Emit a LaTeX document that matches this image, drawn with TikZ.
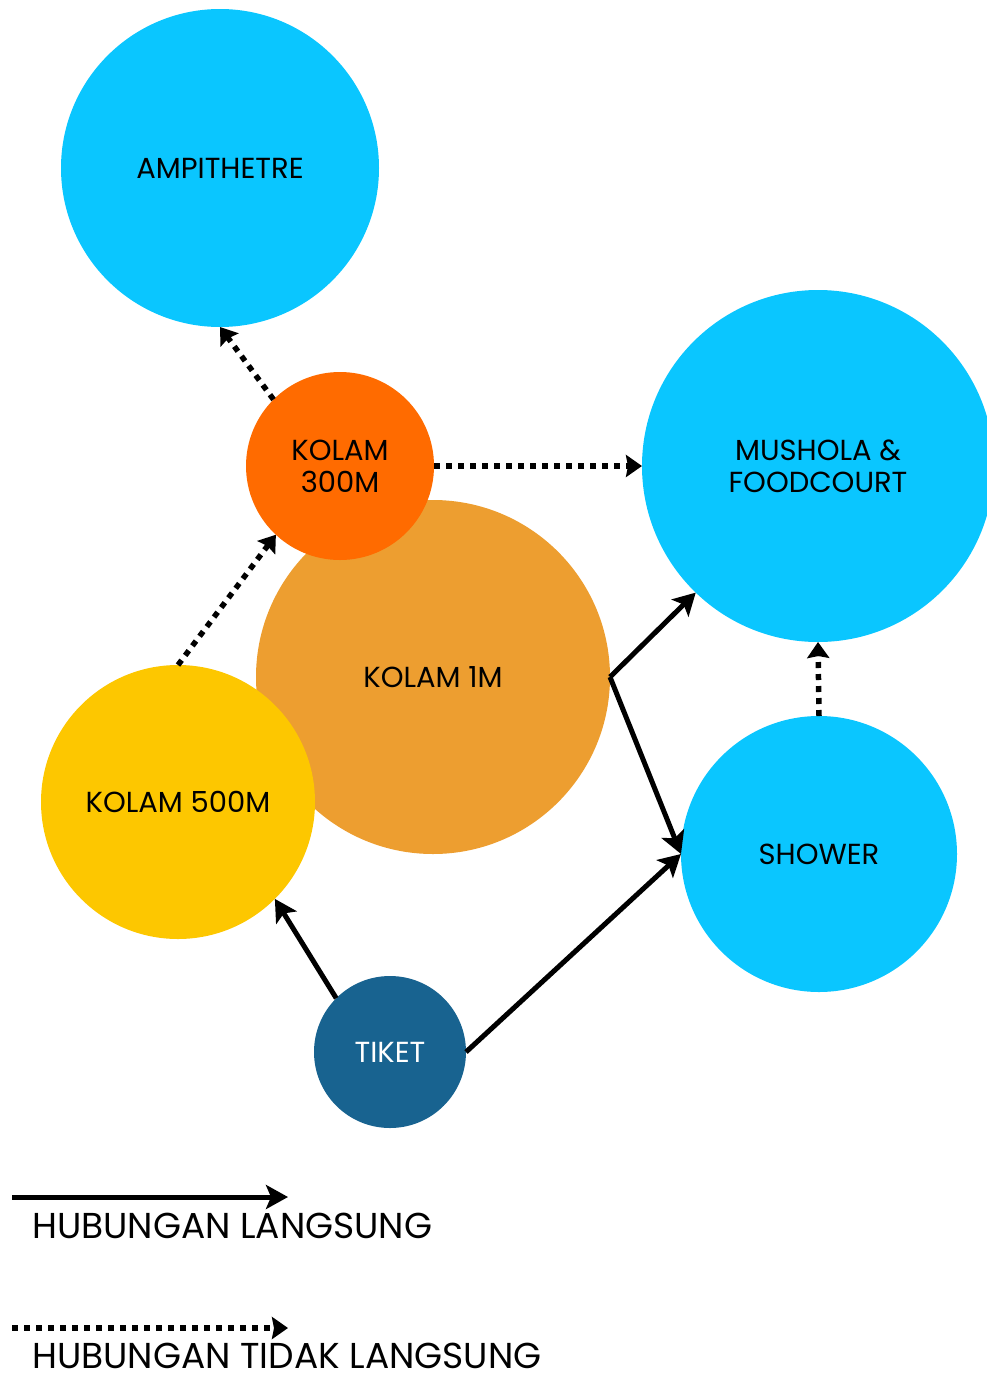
\documentclass[tikz,border=0pt]{standalone}
\usepackage{fontspec}
\setmainfont{Poppins}
\usetikzlibrary{arrows.meta}
\definecolor{skyc}{HTML}{0AC6FF}
\definecolor{orng}{HTML}{FF6B00}
\definecolor{ambr}{HTML}{ED9E30}
\definecolor{yelw}{HTML}{FDC700}
\definecolor{navy}{HTML}{186390}
\tikzset{
  blob/.style={circle,inner sep=0pt,outer sep=0pt,draw=none,align=center,font=\fontsize{29}{32}\selectfont},
  direct/.style={line width=5pt,-{Stealth[length=22pt,width=24pt,inset=5pt]}},
  indirect/.style={line width=5.5pt,dash pattern=on 6pt off 6pt,-{Stealth[length=16pt,width=22pt,inset=2pt]}},
  legtext/.style={anchor=base west,inner sep=0pt,font=\fontsize{36}{40}\selectfont}
}
\begin{document}
\begin{tikzpicture}[x=1pt,y=-1pt]
\useasboundingbox (0,0) rectangle (986,1379);
\node[blob,fill=skyc,minimum size=318pt] (amp) at (220,168) {AMPITHETRE};
\node[blob,fill=skyc,minimum size=352pt] (mush) at (818,466) {MUSHOLA \&\\FOODCOURT};
\node[blob,fill=skyc,minimum size=276pt] (show) at (819,854) {SHOWER};
\node[blob,fill=ambr,minimum size=354pt] (k1) at (433,677) {KOLAM 1M};
\node[blob,fill=orng,minimum size=188pt] (k300) at (340,466) {KOLAM\\300M};
\node[blob,fill=yelw,minimum size=274pt] (k500) at (178,802) {KOLAM 500M};
\node[blob,fill=navy,text=white,minimum size=152pt] (tik) at (390,1052) {TIKET};
\draw[indirect] (k300.135) -- (amp.-90);
\draw[indirect] (k300.0) -- (mush.180);
\draw[indirect] (k500.90) -- (k300.-133);
\draw[indirect] (show.90) -- (mush.-90);
\draw[direct] (k1.0) -- (mush.-134.5);
\draw[direct] (k1.0) -- (show.180);
\draw[direct] (tik.135) -- (k500.-45);
\draw[direct] (tik.0) -- (show.180);
\coordinate (l1s) at (12,1197);
\coordinate (l1e) at (288,1197);
\coordinate (l2s) at (12,1328);
\coordinate (l2e) at (288,1328);
\draw[direct] (l1s) -- (l1e);
\draw[indirect] (l2s) -- (l2e);
\node[legtext] (t1) at (32,1238) {HUBUNGAN LANGSUNG};
\node[legtext] (t2) at (32,1368) {HUBUNGAN TIDAK LANGSUNG};
\end{tikzpicture}
\end{document}
